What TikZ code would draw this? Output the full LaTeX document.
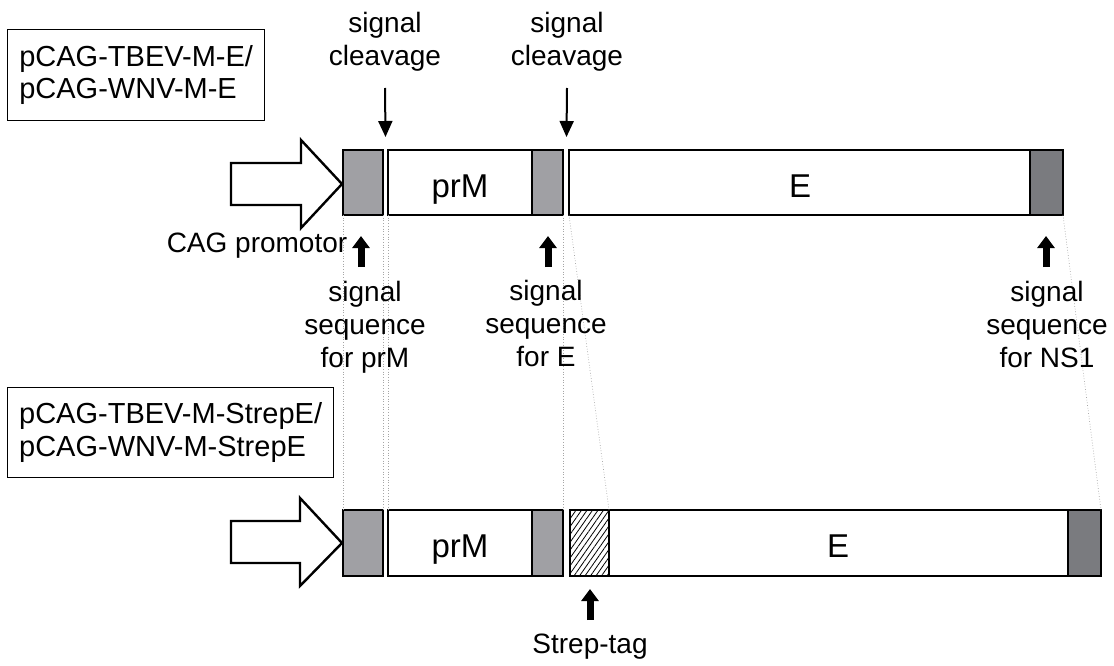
\documentclass[tikz,border=0pt]{standalone}
\usepackage{fontspec}
\setmainfont{Liberation Sans}
\usetikzlibrary{arrows.meta,patterns.meta}
\definecolor{lg}{RGB}{160,160,164}
\definecolor{dg}{RGB}{122,123,127}
\begin{document}
\begin{tikzpicture}[x=1pt,y=-1pt,
  seg/.style={draw=black, line width=2.4pt, inner sep=0pt, outer sep=0pt, anchor=north west},
  lbl/.style={font=\fontsize{28}{33}\selectfont, align=center, inner sep=0pt},
  boxlbl/.style={draw=black, line width=1.3pt, font=\fontsize{29}{32.5}\selectfont, align=left, inner sep=0pt, anchor=north west},
  big/.style={font=\fontsize{33}{36}\selectfont, inner sep=0pt, anchor=base},
  guide/.style={draw=black!35, dotted, line width=0.7pt},
  cleave/.style={line width=2pt, -{Triangle[length=16pt,width=14pt]}},
  thick arrow/.style={line width=7pt, -{Triangle[length=12pt,width=17pt]}},
  hollow/.style={draw=black, line width=2.4pt, fill=white, line join=miter},
  hatch/.style={pattern={Lines[angle=55, distance=4.5pt, line width=0.8pt]}, pattern color=black}
]
\useasboundingbox (0,0) rectangle (1114,666);

% construct boxes
\node[boxlbl, minimum width=257pt, minimum height=91pt] (b1) at (7,29) {pCAG-TBEV-M-E/\\pCAG-WNV-M-E};
\node[boxlbl, minimum width=326pt, minimum height=90pt] (b2) at (7,387) {pCAG-TBEV-M-StrepE/\\pCAG-WNV-M-StrepE};

% top row
\draw[hollow] (231,163) -- (301,163) -- (301,140) -- (342,184) -- (301,228) -- (301,205) -- (231,205) -- cycle;
\node[seg, fill=lg, minimum width=40pt, minimum height=65pt] (gA) at (343,150) {};
\node[seg, fill=white, minimum width=144pt, minimum height=65pt] (pA) at (388,150) {};
\node[seg, fill=lg, minimum width=31pt, minimum height=65pt] (gB) at (532,150) {};
\node[seg, fill=white, minimum width=461pt, minimum height=65pt] (eA) at (569,150) {};
\node[seg, fill=dg, minimum width=33pt, minimum height=65pt] (dA) at (1030,150) {};
\node[big] (tprM) at (460,197) {prM};
\node[big] (tE) at (800,197) {E};

% bottom row
\draw[hollow] (231,521) -- (300,521) -- (300,498) -- (342,543) -- (300,586) -- (300,563) -- (231,563) -- cycle;
\node[seg, fill=lg, minimum width=40pt, minimum height=66pt] (gC) at (343,510) {};
\node[seg, fill=white, minimum width=144pt, minimum height=66pt] (pB) at (388,510) {};
\node[seg, fill=lg, minimum width=31pt, minimum height=66pt] (gD) at (532,510) {};
\node[seg, hatch, minimum width=39pt, minimum height=66pt] (hB) at (570,510) {};
\node[seg, fill=white, minimum width=459pt, minimum height=66pt] (eB) at (609,510) {};
\node[seg, fill=dg, minimum width=33pt, minimum height=66pt] (dB) at (1068,510) {};
\node[big] (bprM) at (460,557) {prM};
\node[big] (bE) at (838,557) {E};

% guide lines
\draw[guide] (gA.south west) -- (gC.north west);
\draw[guide] (gA.south east) -- (gC.north east);
\draw[guide] (pA.south west) -- (pB.north west);
\draw[guide] (gB.south east) -- (gD.north east);
\draw[guide] (eA.south west) -- (hB.north east);
\draw[guide] (dA.south east) -- (dB.north east);

% cleavage labels
\node[lbl, anchor=north] (cl1) at (385,12) {signal\\cleavage};
\node[lbl, anchor=north] (cl2) at (567,12) {signal\\cleavage};
\coordinate (ct1) at (385.5,137);
\coordinate (ct2) at (566.5,137);
\draw[cleave] (cl1.south |- 0,88) -- (ct1);
\draw[cleave] (cl2.south |- 0,88) -- (ct2);

% lower labels
\node[lbl, anchor=base] (cag) at (257,252) {CAG promotor};
\node[lbl, anchor=north] (s1) at (365,281) {signal\\sequence\\for prM};
\node[lbl, anchor=north] (s2) at (546,280) {signal\\sequence\\for E};
\node[lbl, anchor=north] (s3) at (1047,281) {signal\\sequence\\for NS1};
\node[lbl, anchor=base] (st) at (590,653) {Strep-tag};
\coordinate (u1) at (361,236);
\coordinate (u2) at (548,236);
\coordinate (u3) at (1046,236);
\coordinate (u4) at (590,589);
\draw[thick arrow] (361,267) -- (u1);
\draw[thick arrow] (548,267) -- (u2);
\draw[thick arrow] (1046,267) -- (u3);
\draw[thick arrow] (590,620) -- (u4);
\end{tikzpicture}
\end{document}
